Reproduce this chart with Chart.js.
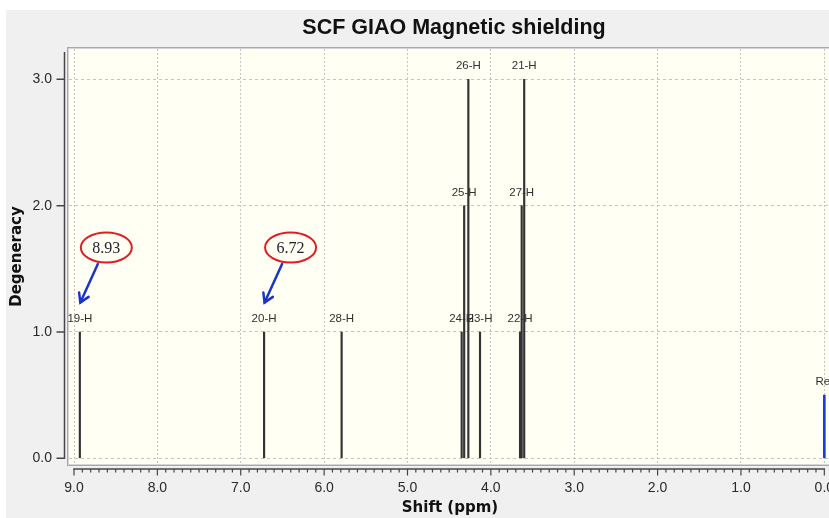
<!DOCTYPE html>
<html>
<head>
<meta charset="utf-8">
<script src="https://cdn.jsdelivr.net/npm/chart.js@4"></script>
<style>
html,body{margin:0;padding:0;background:#fff;overflow:hidden}
#wrap{width:829px;height:518px;overflow:hidden;position:relative}
canvas{display:block}
</style>
</head>
<body>
<div id="wrap"><canvas id="c" width="908" height="518" style="width:908px;height:518px"></canvas></div>
<script>
// ---- data ----
const peakLabels = ['19-H', '20-H', '28-H', '24-H', '25-H', '26-H', '23-H', '22-H', '27-H', '21-H'];
const shifts     = [8.93, 6.72, 5.79, 4.35, 4.32, 4.27, 4.13, 3.65, 3.63, 3.60];
const degeneracy = [1, 1, 1, 1, 2, 3, 1, 1, 2, 3];
const refLabels  = ['Ref'];
const refShifts  = [0.00];
const refValues  = [0.5];
const annotatedPeaks = ['19-H', '20-H'];
const xTickValues = [0, 1, 2, 3, 4, 5, 6, 7, 8, 9];
const yTickValues = [0, 1, 2, 3];

const SANS = '"Liberation Sans", Arial, sans-serif';

const bgPlugin = {
  id: 'bg',
  beforeDraw(chart) {
    const {ctx, chartArea: a, width, height} = chart;
    ctx.save();
    ctx.fillStyle = '#ffffff'; ctx.fillRect(0, 0, width, height);
    ctx.fillStyle = '#f0f0f0'; ctx.fillRect(6, 10, width - 6, height - 10);
    ctx.fillStyle = '#fffff4'; ctx.fillRect(a.left, a.top, a.right - a.left, a.bottom - a.top);
    ctx.lineWidth = 1;
    ctx.strokeStyle = '#a8a8a8';
    ctx.strokeRect(a.left - 1.5, a.top - 1.5, a.right - a.left + 3, a.bottom - a.top + 3);
    ctx.strokeStyle = '#d6d6d6';
    ctx.strokeRect(a.left - 0.5, a.top - 0.5, a.right - a.left + 1, a.bottom - a.top + 1);
    ctx.restore();
  }
};

const axesPlugin = {
  id: 'axes',
  afterDraw(chart) {
    const {ctx, chartArea: a, scales: {x, y}} = chart;
    ctx.save();
    ctx.strokeStyle = '#464646';
    ctx.lineWidth = 1.5;
    // y axis line with ticks pointing left
    const yx = a.left - 4.5;
    ctx.beginPath();
    ctx.moveTo(yx, a.top + 3);
    ctx.lineTo(yx, y.getPixelForValue(0) + 0.75);
    yTickValues.forEach(v => {
      const p = y.getPixelForValue(v);
      ctx.moveTo(yx - 8, p); ctx.lineTo(yx, p);
    });
    ctx.stroke();
    // x axis line with major/minor ticks pointing down
    const xy = a.bottom + 5;
    const lo = Math.min(...xTickValues), hi = Math.max(...xTickValues);
    ctx.beginPath();
    ctx.moveTo(x.getPixelForValue(hi) - 0.75, xy);
    ctx.lineTo(x.getPixelForValue(lo) + 0.75, xy);
    ctx.stroke();
    ctx.lineWidth = 1.2;
    ctx.beginPath();
    for (let i = lo * 10; i <= hi * 10; i++) {
      const p = x.getPixelForValue(i / 10);
      const len = (i % 10 === 0) ? 6.5 : 3.5;
      ctx.moveTo(p, xy); ctx.lineTo(p, xy + len);
    }
    ctx.stroke();
    ctx.restore();
  }
};

const labelPlugin = {
  id: 'peakLabels',
  afterDatasetsDraw(chart) {
    const {ctx} = chart;
    ctx.save();
    ctx.font = '11.5px ' + SANS;
    ctx.fillStyle = '#303030';
    ctx.textAlign = 'center';
    ctx.textBaseline = 'middle';
    chart.data.datasets.forEach((ds, di) => {
      const meta = chart.getDatasetMeta(di);
      meta.data.forEach((el, i) => {
        ctx.fillText(ds.peakNames[i], el.x, el.y - 13);
      });
    });
    // annotations: red ellipse with the shift value and a blue arrow to the peak label
    const meta0 = chart.getDatasetMeta(0);
    annotatedPeaks.forEach(name => {
      const i = peakLabels.indexOf(name);
      const el = meta0.data[i];
      const cx = el.x + 26.5, cy = el.y - 84.5;
      ctx.strokeStyle = '#e31b23';
      ctx.lineWidth = 2;
      ctx.beginPath();
      ctx.ellipse(cx, cy, 25.5, 15, 0, 0, Math.PI * 2);
      ctx.stroke();
      ctx.font = '16px "Liberation Serif", "Times New Roman", serif';
      ctx.fillStyle = '#1e1e28';
      ctx.fillText(shifts[i].toFixed(2), cx, cy + 1);
      const x0 = el.x + 18, y0 = el.y - 68, x1 = el.x + 0.5, y1 = el.y - 29.5;
      ctx.strokeStyle = '#1a34c8';
      ctx.lineWidth = 2.5;
      ctx.lineCap = 'round';
      ctx.beginPath(); ctx.moveTo(x0, y0); ctx.lineTo(x1, y1); ctx.stroke();
      const ang = Math.atan2(y1 - y0, x1 - x0), L = 10, s = 0.55;
      ctx.beginPath();
      ctx.moveTo(x1 - L * Math.cos(ang - s), y1 - L * Math.sin(ang - s));
      ctx.lineTo(x1, y1);
      ctx.lineTo(x1 - L * Math.cos(ang + s), y1 - L * Math.sin(ang + s));
      ctx.stroke();
    });
    ctx.restore();
  }
};

new Chart(document.getElementById('c'), {
  type: 'bar',
  data: {
    datasets: [
      {
        label: 'H',
        data: shifts.map((s, i) => ({x: s, y: degeneracy[i]})),
        peakNames: peakLabels,
        backgroundColor: '#333333',
        barThickness: 1.5,
        grouped: false
      },
      {
        label: 'Ref',
        data: refShifts.map((s, i) => ({x: s, y: refValues[i]})),
        peakNames: refLabels,
        backgroundColor: '#1a3be0',
        barThickness: 2,
        grouped: false
      }
    ]
  },
  options: {
    responsive: false,
    animation: false,
    events: [],
    devicePixelRatio: 1,
    layout: {padding: 0},
    plugins: {
      legend: {display: false},
      tooltip: {enabled: false},
      title: {
        display: true,
        text: 'SCF GIAO Magnetic shielding',
        color: '#111111',
        font: {family: SANS, size: 21.5, weight: 'bold'},
        padding: {top: 15, bottom: 8.2}
      }
    },
    scales: {
      x: {
        type: 'linear',
        reverse: true,
        offset: false,
        min: -0.080,
        max: 9.060,
        afterBuildTicks: s => { s.ticks = xTickValues.map(v => ({value: v})); },
        afterFit: s => { s.height = 54; },
        grid: {color: '#c4c4c4', lineWidth: 1, drawTicks: false, offset: false},
        border: {display: false, dash: [2, 2]},
        ticks: {
          padding: 15.5, color: '#2a2a2a', autoSkip: false, maxRotation: 0,
          font: {family: SANS, size: 14},
          callback: v => Number(v).toFixed(1)
        },
        title: {
          display: true, text: 'Shift (ppm)', color: '#111111',
          font: {family: '"DejaVu Sans", sans-serif', size: 15, weight: 'bold'},
          padding: {top: 0, bottom: 1}
        }
      },
      y: {
        type: 'linear',
        min: -0.045,
        max: 3.24,
        afterBuildTicks: s => { s.ticks = yTickValues.map(v => ({value: v})); },
        afterFit: s => { s.width = 69; },
        grid: {color: '#c4c4c4', lineWidth: 1, drawTicks: false},
        border: {display: false, dash: [3, 3]},
        ticks: {
          padding: 17, color: '#2a2a2a',
          font: {family: SANS, size: 14},
          callback: v => Number(v).toFixed(1)
        },
        title: {
          display: true, text: 'Degeneracy', color: '#111111',
          font: {family: '"DejaVu Sans", sans-serif', size: 15, weight: 'bold'},
          padding: {top: 8, bottom: 0}
        }
      },
      yRight: {
        type: 'linear',
        position: 'right',
        display: true,
        min: 0,
        max: 1,
        afterFit: s => { s.width = 77; },
        grid: {display: false, drawOnChartArea: false, drawTicks: false},
        border: {display: false},
        ticks: {display: false},
        title: {display: false}
      }
    }
  },
  plugins: [bgPlugin, axesPlugin, labelPlugin]
});
</script>
</body>
</html>
